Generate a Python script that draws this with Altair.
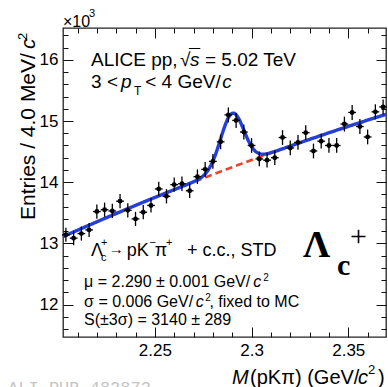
import altair as alt
import pandas as pd
import numpy as np

# ---------------- data ----------------
mass = [2.204, 2.208, 2.212, 2.216, 2.220, 2.224, 2.228, 2.232, 2.236, 2.240,
        2.244, 2.248, 2.252, 2.256, 2.260, 2.264, 2.268, 2.272, 2.276, 2.280,
        2.284, 2.288, 2.292, 2.296, 2.300, 2.304, 2.308, 2.312, 2.316, 2.320,
        2.324, 2.328, 2.332, 2.336, 2.340, 2.344, 2.348, 2.352, 2.356, 2.360,
        2.364, 2.368]
entries_k = [13.14, 13.085, 13.16, 13.22, 13.52, 13.55, 13.53, 13.69, 13.54, 13.40,
             13.51, 13.62, 13.89, 13.77, 13.96, 13.975, 13.86, 14.09, 14.21, 14.34,
             14.66, 15.10, 15.01, 14.82, 14.60, 14.38, 14.36, 14.40, 14.73, 14.56,
             14.65, 14.81, 14.51, 14.67, 14.60, 14.60, 14.95, 15.14, 14.91, 14.74,
             15.15, 15.23]
half_bin = 0.002

# fit model parameters (Gaussian signal + 2nd order polynomial background)
mu, sigma, amp = 2.290, 0.006, 0.88
bg_x0, bg_a, bg_b, bg_c = 2.2025, 13.11, 14.09, -12.7

x_major = [2.25, 2.30, 2.35]
x_minor = [2.21, 2.22, 2.23, 2.24, 2.26, 2.27, 2.28, 2.29, 2.31, 2.32, 2.33, 2.34, 2.36]
y_major = [12, 13, 14, 15, 16]
y_minor = [11.6, 11.8, 12.2, 12.4, 12.6, 12.8, 13.2, 13.4, 13.6, 13.8, 14.2, 14.4,
           14.6, 14.8, 15.2, 15.4, 15.6, 15.8, 16.2, 16.4]

W, H = 323, 309
XD = [2.2025, 2.3695]
YD = [11.47, 16.52]
FONT = "Liberation Sans"
SERIF = "Liberation Serif"

df = pd.DataFrame({"m": mass, "n": entries_k})
df["err"] = np.sqrt(df["n"] * 1000.0) / 1000.0
df["lo"] = df["n"] - df["err"]
df["hi"] = df["n"] + df["err"]
df["xl"] = df["m"] - half_bin
df["xh"] = df["m"] + half_bin

xs = np.linspace(XD[0], XD[1], 400)
bg = bg_a + bg_b * (xs - bg_x0) + bg_c * (xs - bg_x0) ** 2
tot = bg + amp * np.exp(-0.5 * ((xs - mu) / sigma) ** 2)
curve = pd.DataFrame({"m": xs, "bg": bg, "tot": tot})

xsc = alt.Scale(domain=XD, nice=False, zero=False)
ysc = alt.Scale(domain=YD, nice=False, zero=False)

def X(field="m", axis=None):
    return alt.X(field, type="quantitative", scale=xsc, axis=axis)

def Y(field="n", axis=None):
    return alt.Y(field, type="quantitative", scale=ysc, axis=axis)

# ---------- axes: labels layer + inward tick layers ----------
lab_x = alt.Axis(orient="bottom", values=x_major, format=".3~f", ticks=False, tickSize=0,
                 domain=False, grid=False, labelFont=FONT, labelFontSize=17,
                 labelColor="black", labelPadding=5, title=None)
lab_y = alt.Axis(orient="left", values=y_major, format="d", ticks=False, tickSize=0,
                 domain=False, grid=False, labelFont=FONT, labelFontSize=17,
                 labelColor="black", labelPadding=5, title=None)
base = alt.Chart(df).mark_point(opacity=0).encode(x=X(axis=lab_x), y=Y(axis=lab_y))

def tick_layer(xv, yv, xo, yo, size):
    ax = alt.Axis(orient=xo, offset=-H, values=xv, labels=False, ticks=True, tickSize=size,
                  tickColor="#111111", tickWidth=1, domain=False, grid=False, title=None)
    ay = alt.Axis(orient=yo, offset=-W, values=yv, labels=False, ticks=True, tickSize=size,
                  tickColor="#111111", tickWidth=1, domain=False, grid=False, title=None)
    return alt.Chart(df).mark_point(opacity=0).encode(x=X(axis=ax), y=Y(axis=ay))

t1 = tick_layer(x_major, y_major, "top", "right", 10)
t2 = tick_layer(x_minor, y_minor, "top", "right", 5)
t3 = tick_layer(x_major, y_major, "bottom", "left", 10)
t4 = tick_layer(x_minor, y_minor, "bottom", "left", 5)

# ---------- fit curves ----------
bg_line = alt.Chart(curve).mark_line(color="#e8452c", strokeWidth=2.6, strokeDash=[7, 4]).encode(
    x=X(), y=Y("bg"))
fit_line = alt.Chart(curve).mark_line(color="#2440d8", strokeWidth=3.4).encode(
    x=X(), y=Y("tot"))

# ---------- data points ----------
ebar_v = alt.Chart(df).mark_rule(color="black", strokeWidth=1.3).encode(
    x=X(), y=Y("lo"), y2="hi")
ebar_h = alt.Chart(df).mark_rule(color="black", strokeWidth=1.3).encode(
    x=X("xl"), x2="xh", y=Y())
pts = alt.Chart(df).mark_point(filled=True, color="black", size=24, opacity=1).encode(
    x=X(), y=Y())

# ---------- text annotations (positions in data units) ----------
ann_normal = pd.DataFrame([
    (2.2170, 15.900, "ALICE pp,", 19),
    (2.2630, 15.900, "\u221a", 19),
    (2.2759, 15.900, "= 5.02 TeV", 19),
    (2.2170, 15.539, "3 <", 19),
    (2.2392, 15.425, "T", 12),
    (2.2450, 15.539, "< 4 GeV/", 19),
    (2.2170, 12.794, "\u039b", 18),
    (2.2222, 12.712, "c", 11),
    (2.2222, 12.957, "+", 11),
    (2.2262, 12.820, "\u2192", 15),
    (2.2354, 12.794, "pK", 18),
    (2.2472, 12.957, "\u2212", 11),
    (2.2500, 12.794, "\u03c0", 18),
    (2.2558, 12.957, "+", 11),
    (2.2666, 12.794, "+ c.c., STD", 18),
    (2.2134, 12.287, "\u03bc = 2.290 \u00b1 0.001 GeV/", 16),
    (2.3060, 12.385, "2", 10),
    (2.2134, 11.960, "\u03c3 = 0.006 GeV/", 16),
    (2.2760, 12.058, "2", 10),
    (2.2782, 11.960, ", fixed to MC", 16),
    (2.2134, 11.666, "S(\u00b13\u03c3) = 3140 \u00b1 289", 16),
    (2.2025, 16.536, "\u00d710", 16),
    (2.2159, 16.700, "3", 11),
    (2.2992, 10.700, "(pK\u03c0) (GeV/", 20),
    (2.3602, 10.863, "2", 13),
    (2.3654, 10.700, ")", 20),
], columns=["x", "y", "t", "s"])
ann_italic = pd.DataFrame([
    (2.2682, 15.900, "s", 19),
    (2.2325, 15.539, "p", 19),
    (2.2848, 15.539, "c", 19),
    (2.3008, 12.287, "c", 16),
    (2.2712, 11.960, "c", 16),
    (2.2899, 10.700, "M", 20),
    (2.3550, 10.700, "c", 20),
], columns=["x", "y", "t", "s"])
ann_big = pd.DataFrame([
    (2.3266, 12.777, "\u039b", 38),
    (2.3442, 12.483, "c", 30),
], columns=["x", "y", "t", "s"])
ann_plus = pd.DataFrame([(2.3509, 12.955, "+", 30)], columns=["x", "y", "t", "s"])
ann_ytitle = pd.DataFrame([(2.1880, 13.382, "Entries / 4.0 MeV/", 21)], columns=["x", "y", "t", "s"])
ann_ytitle_c = pd.DataFrame([(2.1880, 16.177, "c", 21)], columns=["x", "y", "t", "s"])
ann_ytitle_2 = pd.DataFrame([(2.1839, 16.324, "2", 13)], columns=["x", "y", "t", "s"])
ann_ali = pd.DataFrame([(2.1741, 10.555, "ALI-PUB-482872", 17)], columns=["x", "y", "t", "s"])
overline = pd.DataFrame({"x": [2.2676], "x2": [2.2735], "y": [16.185]})

def txt(data, font=FONT, style="normal", weight="normal", color="black", angle=0):
    return alt.Chart(data).mark_text(align="left", baseline="alphabetic", font=font,
                                     fontStyle=style, fontWeight=weight, color=color,
                                     angle=angle).encode(
        x=X("x"), y=Y("y"), text="t:N", size=alt.Size("s:Q", scale=None, legend=None))

texts = [
    txt(ann_normal),
    txt(ann_italic, style="italic"),
    txt(ann_big, font=SERIF, weight="bold"),
    txt(ann_plus, font=SERIF),
    txt(ann_ytitle, angle=270),
    txt(ann_ytitle_c, style="italic", angle=270),
    txt(ann_ytitle_2, angle=270),
    txt(ann_ali, font="Liberation Mono", color="#c4c4c4"),
]
ovl = alt.Chart(overline).mark_rule(color="black", strokeWidth=1).encode(
    x=X("x"), x2="x2", y=Y("y"))

chart = alt.layer(base, t1, t2, t3, t4, bg_line, fit_line, ebar_v, ebar_h, pts, ovl, *texts)
chart = chart.resolve_axis(x="independent", y="independent").properties(
    width=W, height=H,
    autosize=alt.AutoSizeParams(type="none"),
    padding={"left": 63, "top": 28, "right": 2, "bottom": 50},
    background="white",
).configure_view(stroke="#222222", strokeWidth=1.3)

chart.save("out.html", embed_options={"renderer": "svg", "actions": False})
